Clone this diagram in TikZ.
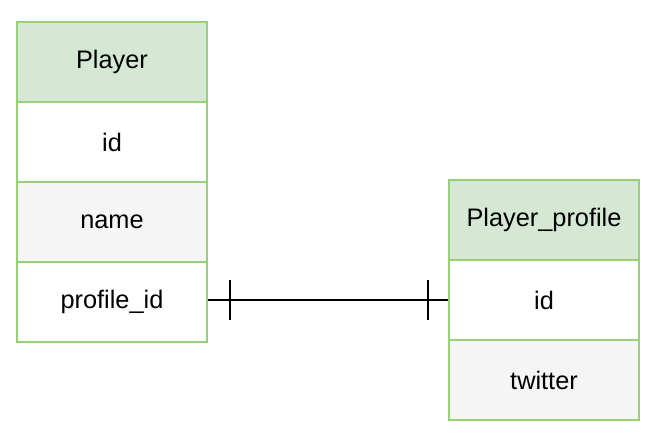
\documentclass[tikz,border=0pt]{standalone}
\usepackage{fontspec}
\setmainfont{Liberation Sans}
\usetikzlibrary{positioning}

\definecolor{erborder}{HTML}{97D077}
\definecolor{erhead}{HTML}{D5E8D4}
\definecolor{errow}{HTML}{F5F5F5}

\tikzset{
  field/.style={draw=erborder, line width=1.5pt, fill=white,
    minimum width=190*0.75pt, minimum height=80*0.75pt,
    inner sep=0pt, font=\fontsize{19}{22}\selectfont},
  headfield/.style={field, fill=erhead},
  greyfield/.style={field, fill=errow},
  relation/.style={line width=1.5pt, black}
}

\begin{document}
\begin{tikzpicture}[x=0.75pt, y=-0.75pt]

     \useasboundingbox (0,0) rectangle (660,438);

     % Player
     \node[headfield] (player) at (112,62) {Player};
     \node[field] (pid) at (112,142) {id};
     \node[greyfield] (pname) at (112,222) {name};
     \node[field] (pprofile) at (112,302) {profile\_id};

     % Player_profile
     \node[headfield] (profile) at (544,220) {Player\_profile};
     \node[field] (prid) at (544,300) {id};
     \node[greyfield] (prtwitter) at (544,380) {twitter};

     % relation
     \draw[relation] (pprofile.east |- prid.west) -- (prid.west);
     \draw[relation] ([shift={(22,-20)}]pprofile.east |- prid.west) -- ([shift={(22,20)}]pprofile.east |- prid.west);
     \draw[relation] ([shift={(-20,-20)}]prid.west) -- ([shift={(-20,20)}]prid.west);

\end{tikzpicture}
\end{document}
